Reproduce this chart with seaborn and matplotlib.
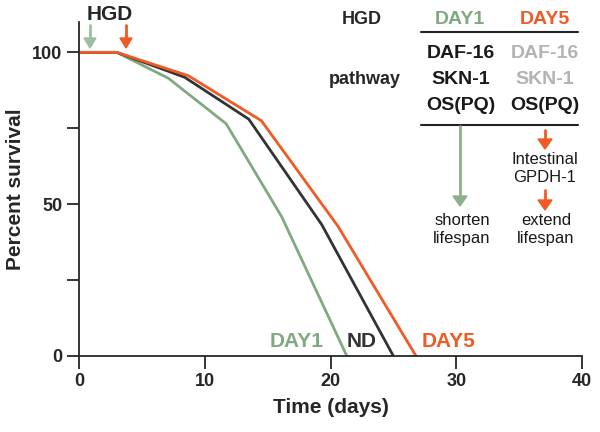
import pandas as pd
import numpy as np
import seaborn as sns
import matplotlib.pyplot as plt

# survival curves (days, percent survival)
day1_t = [0, 3.0, 7.1, 11.7, 16.1, 21.3]
day1_s = [100, 100, 91.5, 76.5, 46, 0]
nd_t = [0, 3.0, 8.4, 13.5, 19.3, 25.0]
nd_s = [100, 100, 91.8, 78, 43.3, 0]
day5_t = [0, 3.0, 8.7, 14.5, 20.6, 26.8]
day5_s = [100, 100, 92.3, 77.5, 42.7, 0]

groups = ['DAY1', 'ND', 'DAY5']
colors = {'DAY1': '#80a980', 'ND': '#333333', 'DAY5': '#f15a24'}

xticks = [0, 10, 20, 30, 40]
yticks = [0, 50, 100]

df = pd.concat([
    pd.DataFrame({'t': day1_t, 's': day1_s, 'g': 'DAY1'}),
    pd.DataFrame({'t': nd_t, 's': nd_s, 'g': 'ND'}),
    pd.DataFrame({'t': day5_t, 's': day5_s, 'g': 'DAY5'}),
])

sns.set_style('ticks')
plt.rcParams['font.family'] = ['Liberation Sans', 'DejaVu Sans']

fig = plt.figure(figsize=(6, 4.32), dpi=100)
ax = fig.add_axes([79/600, 1-356/432, (582-79)/600, (356-22)/432])

sns.lineplot(data=df, x='t', y='s', hue='g', hue_order=groups, palette=colors,
             linewidth=2.0, legend=False, ax=ax, sort=False, estimator=None)

ax.set_xlim(0, 40)
ax.set_ylim(0, 110)
ax.set_xticks(xticks)
ax.set_yticks(yticks)
ax.set_yticks([25, 75], minor=True)
ax.tick_params(axis='both', which='both', length=9, width=1.3, direction='out')
ax.tick_params(labelsize=13, pad=3)
for lab in ax.get_xticklabels() + ax.get_yticklabels():
    lab.set_fontweight('bold')
for sp in ['top', 'right']:
    ax.spines[sp].set_visible(False)
for sp in ['left', 'bottom']:
    ax.spines[sp].set_linewidth(1.3)
ax.set_xlabel('Time (days)', fontsize=15, fontweight='bold', labelpad=6)
ax.set_ylabel('Percent survival', fontsize=15, fontweight='bold', labelpad=5)

# curve labels
ax.text(17.3, 3, 'DAY1', color=colors['DAY1'], fontsize=15, fontweight='bold', ha='center')
ax.text(22.5, 3, 'ND', color=colors['ND'], fontsize=15, fontweight='bold', ha='center')
ax.text(29.4, 3, 'DAY5', color=colors['DAY5'], fontsize=15, fontweight='bold', ha='center')

def fx(px):
    return px / 600

def fy(py):
    return 1 - py / 432

green_arrow = '#9dbf9d'
grey = '#b3b3b3'

# HGD treatment arrows
fig.text(fx(110), fy(15), 'HGD', fontsize=15, fontweight='bold', ha='center', va='center')
for px, c in [(90, green_arrow), (126, colors['DAY5'])]:
    fig.add_artist(plt.Line2D([fx(px)] * 2, [fy(25), fy(40)], color=c, lw=2))
    fig.add_artist(plt.Polygon([[fx(px - 6), fy(38)], [fx(px + 6), fy(38)], [fx(px), fy(48)]],
                               closed=True, color=c, transform=fig.transFigure))

# pathway table
fig.text(fx(362), fy(20), 'HGD', fontsize=13, fontweight='bold', ha='center', va='center')
fig.text(fx(401), fy(80), 'pathway', fontsize=13, fontweight='bold', ha='right', va='center')
fig.text(fx(460), fy(19), 'DAY1', fontsize=14, fontweight='bold', ha='center', va='center', color=colors['DAY1'])
fig.text(fx(545), fy(19), 'DAY5', fontsize=14, fontweight='bold', ha='center', va='center', color=colors['DAY5'])
fig.add_artist(plt.Line2D([fx(421), fx(578)], [fy(32), fy(32)], color='#222222', lw=1.5))
for row, py in zip(['DAF-16', 'SKN-1', 'OS(PQ)'], [54, 80, 105]):
    fig.text(fx(461), fy(py), row, fontsize=14, fontweight='bold', ha='center', va='center', color='#1a1a1a')
    fig.text(fx(545), fy(py), row, fontsize=14, fontweight='bold', ha='center', va='center',
             color='#1a1a1a' if row == 'OS(PQ)' else grey)
fig.add_artist(plt.Line2D([fx(421), fx(578)], [fy(125), fy(125)], color='#222222', lw=1.5))


def down_arrow(px, py0, py1, c):
    fig.add_artist(plt.Line2D([fx(px)] * 2, [fy(py0), fy(py1 - 8)], color=c, lw=2))
    fig.add_artist(plt.Polygon([[fx(px - 7), fy(py1 - 10)], [fx(px + 7), fy(py1 - 10)], [fx(px), fy(py1)]],
                               closed=True, color=c, transform=fig.transFigure))


down_arrow(460, 126, 206, '#8cb08c')
down_arrow(545, 130, 149, colors['DAY5'])
down_arrow(545, 190, 210, colors['DAY5'])

fig.text(fx(545), fy(159), 'Intestinal', fontsize=12, ha='center', va='center', color='#1a1a1a')
fig.text(fx(545), fy(178), 'GPDH-1', fontsize=12, ha='center', va='center', color='#1a1a1a')
fig.text(fx(462), fy(220), 'shorten', fontsize=12, ha='center', va='center', color='#1a1a1a')
fig.text(fx(462), fy(239), 'lifespan', fontsize=12, ha='center', va='center', color='#1a1a1a')
fig.text(fx(546), fy(220), 'extend', fontsize=12, ha='center', va='center', color='#1a1a1a')
fig.text(fx(546), fy(239), 'lifespan', fontsize=12, ha='center', va='center', color='#1a1a1a')

fig.savefig('out.png', dpi=100)
